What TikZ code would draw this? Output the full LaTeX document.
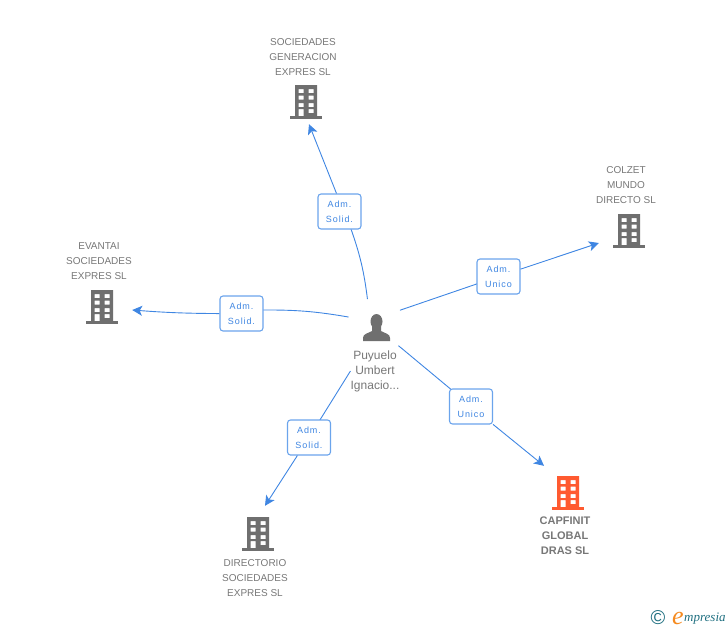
\documentclass[tikz,border=0pt]{standalone}
\usepackage{fontspec}
\usepackage{tikz}
\usetikzlibrary{arrows.meta}
\setmainfont{Liberation Sans}
\newfontfamily\boxfont[LetterSpace=10]{Liberation Sans}
\newfontfamily\logofont{Liberation Serif}
\definecolor{linkblue}{HTML}{3F86E2}
\definecolor{boxblue}{HTML}{6BA4EC}
\definecolor{icongray}{HTML}{6F6F6F}
\definecolor{textgray}{HTML}{777777}
\definecolor{iconorange}{HTML}{FF5A30}
\definecolor{logoteal}{HTML}{1F6F80}
\definecolor{logoorange}{HTML}{F58A1F}
\tikzset{
	company/.style={minimum width=62pt,minimum height=46pt,inner sep=0pt},
	companytext/.style={align=center,text=textgray,font=\fontsize{10}{15}\selectfont,inner sep=0pt},
	role/.style={draw=boxblue,line width=1.1pt,fill=white,rounded corners=3pt,minimum width=43pt,minimum height=35pt,inner sep=0pt,align=center,text=linkblue,font=\boxfont\fontsize{9}{15}\selectfont},
	link/.style={draw=linkblue,line width=0.9pt},
	arrowlink/.style={link,-{Stealth[length=10pt,width=10pt,inset=2.5pt]}}
}
% building icon, placed on a company node
\newcommand{\buildingicon}[2]{
	\begin{scope}[shift={(#1)}]
		\fill[#2,even odd rule] (-11,-16) rectangle (11,15)
			(-7.5,-12) rectangle (-2.5,-8) (2.5,-12) rectangle (7.5,-8)
			(-7.5,-5.5) rectangle (-2.5,-1.5) (2.5,-5.5) rectangle (7.5,-1.5)
			(-7.5,2) rectangle (-2.5,6) (2.5,2) rectangle (7.5,6)
			(-7.5,8) rectangle (-2.5,15) (2.5,8) rectangle (7.5,12);
		\fill[#2] (-16,15) rectangle (16,18);
	\end{scope}
}
\begin{document}
\begin{tikzpicture}[x=1pt,y=-1pt]
	\useasboundingbox (0,0) rectangle (728,630);

	\node[circle,minimum size=58pt,inner sep=0pt] (person) at (376,327) {};
	\node[companytext,font=\fontsize{12}{15}\selectfont] (personname) at (375,371) {Puyuelo\\Umbert\\Ignacio...};
	\fill[icongray] (376.5,321.5) ellipse (6 and 7.5);
	\fill[icongray] (363,341) -- (363,338) .. controls (363,333.5) and (368,333.5) .. (372,331) -- (372,326) -- (381,326) -- (381,331) .. controls (385,333.5) and (390,333.5) .. (390,338) -- (390,341) -- cycle;

	\node[company] (sociedades) at (306,101) {};
	\node[company] (colzet) at (629,230) {};
	\node[company] (evantai) at (102,306) {};
	\node[company] (directorio) at (258,533) {};
	\node[company] (capfinit) at (568,492) {};
	\buildingicon{sociedades}{icongray}
	\buildingicon{colzet}{icongray}
	\buildingicon{evantai}{icongray}
	\buildingicon{directorio}{icongray}
	\buildingicon{capfinit}{iconorange}

	\node[companytext] (sociedadestext) at (303,57) {SOCIEDADES\\GENERACION\\EXPRES SL};
	\node[companytext] (colzettext) at (626,185) {COLZET\\MUNDO\\DIRECTO SL};
	\node[companytext] (evantaitext) at (99,261) {EVANTAI\\SOCIEDADES\\EXPRES SL};
	\node[companytext] (directoriotext) at (255,578) {DIRECTORIO\\SOCIEDADES\\EXPRES SL};
	\node[companytext,font=\bfseries\fontsize{11}{15}\selectfont] (capfinittext) at (565,536) {CAPFINIT\\GLOBAL\\DRAS SL};

	\path[link] (person.107) to[bend right=6] (351,229);
	\path[link] (person.160) to[bend right=5] (263,310);
	\path[link] (person.35) -- (498.5,276.5);
	\path[link] (person) -- (471,406);
	\path[link] (personname.west) -- (309,437.5);

	\node[role] (rolesociedades) at (339.5,211.5) {Adm.\\Solid.};
	\node[role] (rolecolzet) at (498.5,276.5) {Adm.\\Unico};
	\node[role] (roleevantai) at (241.5,313.5) {Adm.\\Solid.};
	\node[role] (roledirectorio) at (309,437.5) {Adm.\\Solid.};
	\node[role] (rolecapfinit) at (471,406.5) {Adm.\\Unico};

	\draw[arrowlink] ([xshift=-3pt]rolesociedades.north) -- ([xshift=3pt]sociedades.south);
	\draw[arrowlink] (rolecolzet) -- ([xshift=1pt,yshift=-13pt]colzet.west);
	\draw[arrowlink] (roleevantai) to[bend left=2] ([xshift=-1pt,yshift=-4pt]evantai.east);
	\draw[arrowlink] (roledirectorio) -- ([xshift=7pt,yshift=4pt]directorio.north);
	\draw[arrowlink] (rolecapfinit) -- ([xshift=-24pt,yshift=3pt]capfinit.north);

	\node[text=logoteal,font=\fontsize{20}{20}\selectfont,inner sep=0pt] (logomark) at (658,618) {\textcopyright};
	\node[text=logoteal,font=\logofont\itshape\fontsize{13}{13}\selectfont,inner sep=0pt,anchor=west] (logoname) at (684,619) {mpresia};
	\node[text=logoorange,font=\logofont\itshape\fontsize{26}{26}\selectfont,inner sep=0pt] (logoletter) at (678,618) {e};
\end{tikzpicture}
\end{document}
